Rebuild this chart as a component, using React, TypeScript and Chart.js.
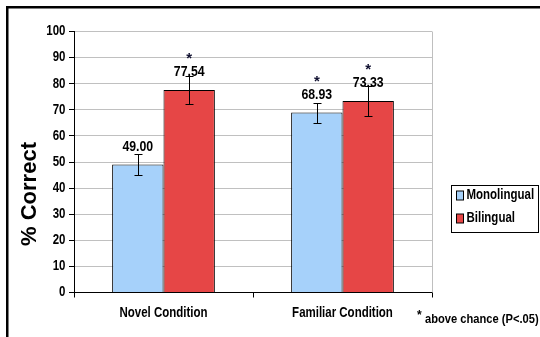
import React, { useEffect, useRef } from "react";
import { Chart, registerables } from "chart.js";

Chart.register(...registerables);

const categories = ["Novel Condition", "Familiar Condition"];
const seriesNames = ["Monolingual", "Bilingual"];
const monolingual = [49.0, 68.93];
const bilingual = [77.54, 73.33];
const monolingualErr = [3.9, 3.8];
const bilingualErr = [5.4, 5.6];
const monolingualStar = [false, true];
const bilingualStar = [true, true];
const yTickValues = [0, 10, 20, 30, 40, 50, 60, 70, 80, 90, 100];
const yTitle = "% Correct";
const footnoteStar = "*";
const footnoteText = "above chance (P<.05)";

const COLORS = ["#a6d1fa", "#e64646"];
const WIDE = '"Liberation Sans", Arial, sans-serif';
const SQUEEZE = 0.82;

const errs = [monolingualErr, bilingualErr];
const stars = [monolingualStar, bilingualStar];

function narrowText(ctx: any, text: string, x: number, y: number, size: number, align: string) {
  ctx.save();
  ctx.font = `bold ${size}px ${WIDE}`;
  ctx.textBaseline = "middle";
  ctx.textAlign = align;
  ctx.fillStyle = "#000";
  ctx.translate(x, y);
  ctx.scale(SQUEEZE, 1);
  ctx.fillText(text, 0, 0);
  ctx.restore();
}

const overlay = {
  id: "overlay",
  beforeDraw(chart: any) {
    const ctx = chart.ctx;
    ctx.save();
    ctx.fillStyle = "#fff";
    ctx.fillRect(0, 0, chart.width, chart.height);
    ctx.restore();
  },
  afterDatasetsDraw(chart: any) {
    const ctx = chart.ctx;
    const y = chart.scales.y;
    const x = chart.scales.x;
    const area = chart.chartArea;
    ctx.save();
    // plot right border
    ctx.strokeStyle = "#bfbfbf";
    ctx.lineWidth = 1;
    ctx.beginPath();
    ctx.moveTo(Math.round(area.right) + 0.5, area.top);
    ctx.lineTo(Math.round(area.right) + 0.5, area.bottom);
    ctx.stroke();

    // y tick labels
    yTickValues.forEach((v) => {
      narrowText(ctx, String(v), 65.5, y.getPixelForValue(v), 14, "right");
    });
    // x tick labels
    categories.forEach((c, i) => {
      narrowText(ctx, c, x.getPixelForValue(i), 313, 14, "center");
    });

    chart.data.datasets.forEach((ds: any, di: number) => {
      const meta = chart.getDatasetMeta(di);
      meta.data.forEach((bar: any, i: number) => {
        const v = ds.data[i];
        const e = errs[di][i];
        const bx = Math.round(bar.x) + 0.5;
        const yt = Math.round(y.getPixelForValue(v + e)) + 0.5;
        const yb = Math.round(y.getPixelForValue(v - e)) + 0.5;
        ctx.strokeStyle = "#000";
        ctx.lineWidth = 1;
        ctx.beginPath();
        ctx.moveTo(bx, yt);
        ctx.lineTo(bx, yb);
        ctx.moveTo(bx - 4, yt);
        ctx.lineTo(bx + 4, yt);
        ctx.moveTo(bx - 4, yb);
        ctx.lineTo(bx + 4, yb);
        ctx.stroke();

        narrowText(ctx, v.toFixed(2), bar.x, bar.y - 18, 15, "center");
        if (stars[di][i]) {
          ctx.font = `bold 15px ${WIDE}`;
          ctx.fillStyle = "#101030";
          ctx.textAlign = "center";
          ctx.textBaseline = "middle";
          ctx.fillText("*", bar.x, bar.y - 35 + 4);
        }
      });
    });
    ctx.restore();
  },
  afterDraw(chart: any) {
    const ctx = chart.ctx;
    ctx.save();
    // frame
    ctx.fillStyle = "#000";
    ctx.fillRect(6, 6, 540 - 6, 2.5);
    ctx.fillRect(6, 6, 2.5, 337 - 6);

    // y title
    ctx.save();
    ctx.translate(29.5, 194);
    ctx.rotate(-Math.PI / 2);
    ctx.font = `bold 22px ${WIDE}`;
    ctx.fillStyle = "#000";
    ctx.textAlign = "center";
    ctx.textBaseline = "middle";
    ctx.fillText(yTitle, 0, 0);
    ctx.restore();

    // legend
    ctx.strokeStyle = "#000";
    ctx.lineWidth = 1;
    ctx.strokeRect(451.5, 185.5, 87, 47);
    const rows = [195.5, 218.5];
    seriesNames.forEach((name, i) => {
      ctx.fillStyle = COLORS[i];
      ctx.fillRect(456.5, rows[i] - 4.5, 7, 9);
      ctx.strokeRect(456.5, rows[i] - 4.5, 7, 9);
      narrowText(ctx, name, 466.5, rows[i], 14, "left");
    });

    // footnote
    ctx.font = `bold 12px ${WIDE}`;
    ctx.fillStyle = "#000";
    ctx.textAlign = "left";
    ctx.textBaseline = "middle";
    ctx.fillText(footnoteStar, 417, 316);
    narrowText(ctx, footnoteText, 425, 319, 13.6, "left");
    ctx.restore();
  },
};

export default function App() {
  const ref = useRef<HTMLCanvasElement>(null);
  useEffect(() => {
    if (!ref.current) return;
    const chart = new Chart(ref.current, {
      type: "bar",
      data: {
        labels: categories,
        datasets: [
          {
            label: seriesNames[0],
            data: monolingual,
            backgroundColor: COLORS[0],
            borderColor: "#000",
            borderWidth: 1,
            categoryPercentage: 0.574,
            barPercentage: 1.0,
          },
          {
            label: seriesNames[1],
            data: bilingual,
            backgroundColor: COLORS[1],
            borderColor: "#000",
            borderWidth: 1,
            categoryPercentage: 0.574,
            barPercentage: 1.0,
          },
        ],
      },
      plugins: [overlay],
      options: {
        animation: false,
        responsive: false,
        maintainAspectRatio: false,
        devicePixelRatio: 1,
        layout: { padding: { left: 0, top: 31.5, right: 108, bottom: 0 } },
        plugins: { legend: { display: false }, tooltip: { enabled: false } },
        scales: {
          x: {
            afterFit: (s: any) => {
              s.height = 44.5;
            },
            grid: { offset: true, drawOnChartArea: false, tickLength: 5, tickColor: "#000" },
            border: { color: "#000" },
            ticks: { display: false },
          },
          y: {
            min: 0,
            max: 100,
            afterFit: (s: any) => {
              s.width = 74;
            },
            afterBuildTicks: (s: any) => {
              s.ticks = yTickValues.map((v) => ({ value: v }));
            },
            grid: { color: "#c0c0c0", tickColor: "#000", tickLength: 5 },
            border: { color: "#000" },
            ticks: { display: false },
          },
        },
      },
    });
    return () => chart.destroy();
  }, []);
  return (
    <div style={{ position: "fixed", left: 0, top: 0, width: 540, height: 337, background: "#fff" }}>
      <canvas ref={ref} width={540} height={337} style={{ width: 540, height: 337, display: "block" }} />
    </div>
  );
}
